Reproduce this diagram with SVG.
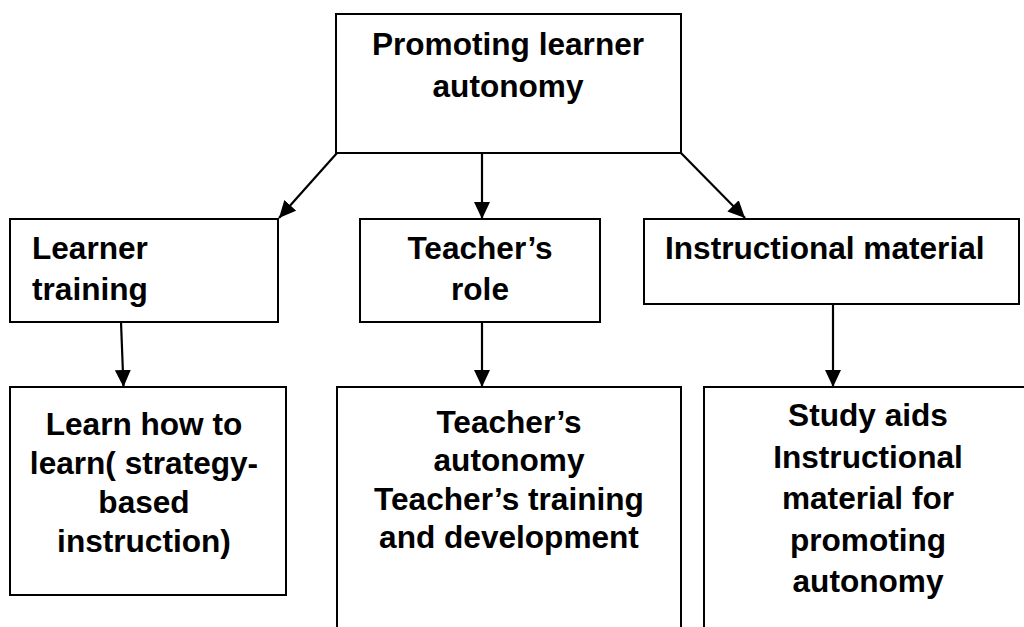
<svg xmlns="http://www.w3.org/2000/svg" width="1024" height="627" viewBox="0 0 1024 627">
  <style>
    .box { fill: #ffffff; stroke: #000000; stroke-width: 2; }
    .t { font-family: "Liberation Sans", Arial, sans-serif; font-weight: bold; font-size: 31.6px; fill: #000000; }
    .c { text-anchor: middle; }
    .conn { stroke: #000000; stroke-width: 2.2; fill: none; marker-end: url(#arrow); }
  </style>
  <defs>
    <marker id="arrow" markerUnits="userSpaceOnUse" markerWidth="18" markerHeight="17" refX="17" refY="8" orient="auto">
      <path d="M0,0 L17,8 L0,16 z" fill="#000000"/>
    </marker>
  </defs>
  <rect width="1024" height="627" fill="#ffffff"/>

  <g id="connectors">
    <line class="conn" x1="337" y1="153" x2="279" y2="218"/>
    <line class="conn" x1="482" y1="153" x2="482" y2="219"/>
    <line class="conn" x1="681" y1="153" x2="745" y2="218"/>
    <line class="conn" x1="121" y1="322" x2="123.5" y2="387"/>
    <line class="conn" x1="482" y1="322" x2="482" y2="387"/>
    <line class="conn" x1="833" y1="304" x2="833" y2="387"/>
  </g>

  <g id="promoting">
    <rect class="box" x="336" y="14" width="345" height="139"/>
    <text class="t c" x="508" y="55">Promoting learner</text>
    <text class="t c" x="508" y="97">autonomy</text>
  </g>

  <g id="learner-training">
    <rect class="box" x="10" y="219" width="268" height="103"/>
    <text class="t" x="32" y="259">Learner</text>
    <text class="t" x="32" y="300">training</text>
  </g>

  <g id="teachers-role">
    <rect class="box" x="360" y="219" width="240" height="103"/>
    <text class="t c" x="480" y="259">Teacher’s</text>
    <text class="t c" x="480" y="300">role</text>
  </g>

  <g id="instructional-material">
    <rect class="box" x="644" y="219" width="375" height="85"/>
    <text class="t" x="665" y="259">Instructional material</text>
  </g>

  <g id="learn-how-to-learn">
    <rect class="box" x="10" y="387" width="276" height="208"/>
    <text class="t c" x="144" y="435">Learn how to</text>
    <text class="t c" x="144" y="474">learn( strategy-</text>
    <text class="t c" x="144" y="513">based</text>
    <text class="t c" x="144" y="552">instruction)</text>
  </g>

  <g id="teachers-autonomy">
    <rect class="box" x="337" y="387" width="344" height="260"/>
    <text class="t c" x="509" y="433">Teacher’s</text>
    <text class="t c" x="509" y="471">autonomy</text>
    <text class="t c" x="509" y="510">Teacher’s training</text>
    <text class="t c" x="509" y="548">and development</text>
  </g>

  <g id="study-aids">
    <rect class="box" x="704" y="387" width="340" height="260"/>
    <text class="t c" x="868" y="426">Study aids</text>
    <text class="t c" x="868" y="467.5">Instructional</text>
    <text class="t c" x="868" y="509">material for</text>
    <text class="t c" x="868" y="550.5">promoting</text>
    <text class="t c" x="868" y="592">autonomy</text>
  </g>
</svg>
